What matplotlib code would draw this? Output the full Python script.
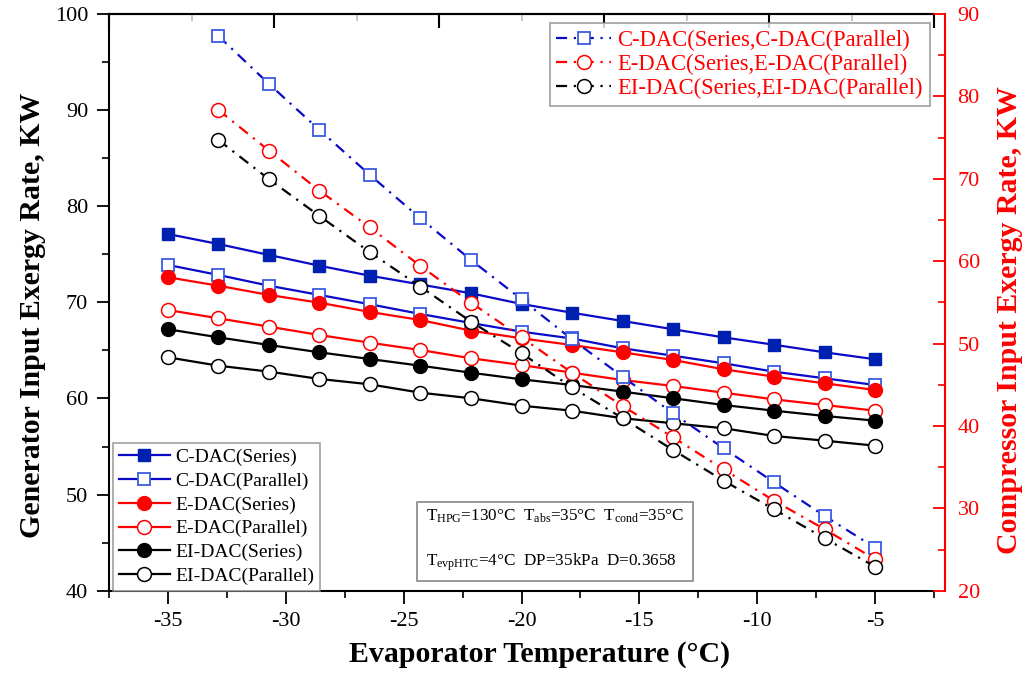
import matplotlib
matplotlib.use("Agg")
import matplotlib.pyplot as plt
from matplotlib.ticker import MultipleLocator

plt.rcParams['font.family'] = ['Liberation Serif', 'DejaVu Serif']
plt.rcParams['mathtext.fontset'] = 'custom'
plt.rcParams['mathtext.rm'] = 'Liberation Serif'
plt.rcParams['mathtext.it'] = 'Liberation Serif:italic'
plt.rcParams['mathtext.bf'] = 'Liberation Serif:bold'
plt.rcParams['axes.unicode_minus'] = False

# Evaporator temperature (°C)
temp = [-35, -32.86, -30.71, -28.57, -26.43, -24.29, -22.14, -20,
        -17.86, -15.71, -13.57, -11.43, -9.29, -7.14, -5]

# Generator input exergy rate (kW), left axis
c_series = [77.11, 76.07, 74.93, 73.81, 72.77, 71.86, 70.94, 69.83,
            68.92, 68.06, 67.20, 66.36, 65.59, 64.80, 64.08]
c_parallel = [73.89, 72.85, 71.73, 70.77, 69.80, 68.79, 67.85, 66.95,
              66.24, 65.22, 64.45, 63.66, 62.79, 62.10, 61.40]
e_series = [72.61, 71.73, 70.77, 69.96, 69.00, 68.16, 67.05, 66.26,
            65.56, 64.80, 64.00, 63.04, 62.27, 61.58, 60.88]
e_parallel = [69.20, 68.34, 67.47, 66.60, 65.80, 65.04, 64.18, 63.48,
              62.68, 61.92, 61.30, 60.60, 59.91, 59.32, 58.73]
ei_series = [67.20, 66.36, 65.56, 64.80, 64.10, 63.41, 62.68, 61.99,
             61.40, 60.71, 60.02, 59.32, 58.73, 58.18, 57.69]
ei_parallel = [64.28, 63.41, 62.79, 62.03, 61.47, 60.60, 60.02, 59.25,
               58.73, 57.94, 57.42, 56.90, 56.10, 55.61, 55.09]

# Compressor input exergy rate (kW), right axis
comp_temp = temp[1:]
c_comp = [87.33, 81.50, 75.92, 70.46, 65.20, 60.14, 55.37, 50.52,
          45.98, 41.53, 37.29, 33.16, 29.07, 25.22]
e_comp = [78.35, 73.41, 68.55, 64.09, 59.41, 54.96, 50.76, 46.46,
          42.42, 38.62, 34.74, 30.93, 27.46, 23.82]
ei_comp = [74.71, 69.94, 65.48, 61.08, 56.90, 52.65, 48.82, 44.69,
           40.93, 37.08, 33.36, 29.88, 26.36, 22.92]

series_labels = ['C-DAC(Series)', 'C-DAC(Parallel)', 'E-DAC(Series)',
                 'E-DAC(Parallel)', 'EI-DAC(Series)', 'EI-DAC(Parallel)']
comp_labels = ['C-DAC(Series,C-DAC(Parallel)', 'E-DAC(Series,E-DAC(Parallel)',
               'EI-DAC(Series,EI-DAC(Parallel)']

BLUE_LINE = '#0a0ac8'
BLUE_FILL = '#0020b0'
BLUE_OPEN = '#3a5ae0'
RED = '#ff0000'
BLACK = '#000000'

fig = plt.figure(figsize=(10.27, 6.73), dpi=100)
ax = fig.add_axes([109 / 1027, 1 - 590.7 / 673, 825 / 1027, 576.7 / 673])

lw = 1.6
ms = 9
ax.plot(temp, c_series, color=BLUE_LINE, lw=lw, marker='s', ms=ms,
        mfc=BLUE_FILL, mec=BLUE_FILL, label=series_labels[0])
ax.plot(temp, c_parallel, color=BLUE_LINE, lw=lw, marker='s', ms=ms,
        mfc='white', mec=BLUE_OPEN, mew=1.3, label=series_labels[1])
ax.plot(temp, e_series, color=RED, lw=lw, marker='o', ms=ms + 1,
        mfc=RED, mec=RED, label=series_labels[2])
ax.plot(temp, e_parallel, color=RED, lw=lw, marker='o', ms=ms + 1,
        mfc='white', mec=RED, mew=1.1, label=series_labels[3])
ax.plot(temp, ei_series, color=BLACK, lw=lw, marker='o', ms=ms + 1,
        mfc=BLACK, mec=BLACK, label=series_labels[4])
ax.plot(temp, ei_parallel, color=BLACK, lw=lw, marker='o', ms=ms + 1,
        mfc='white', mec=BLACK, mew=1.1, label=series_labels[5])

ax.set_xlim(-37.5, -2.5)
ax.set_ylim(40, 100)
ax.xaxis.set_major_locator(MultipleLocator(5))
ax.xaxis.set_minor_locator(MultipleLocator(2.5))
ax.yaxis.set_major_locator(MultipleLocator(10))
ax.yaxis.set_minor_locator(MultipleLocator(5))
ax.tick_params(axis='both', which='major', direction='out', length=9,
               width=1.3, labelsize=16, pad=6)
ax.tick_params(axis='both', which='minor', direction='out', length=5, width=1.2)
ax.tick_params(axis='y', which='both', right=False)
ax.tick_params(axis='x', which='both', top=False)
ax.spines['right'].set_visible(False)
for side in ('left', 'bottom', 'top'):
    ax.spines[side].set_linewidth(1.5)

ax.set_xlabel('Evaporator Temperature (°C)', fontsize=21.5, fontweight='bold')
ax.xaxis.set_label_coords((540 - 109) / 825, -0.088)
ax.set_ylabel('Generator Input Exergy Rate, KW', fontsize=21.5, fontweight='bold')
ax.yaxis.set_label_coords(-0.076, 0.478)

leg1 = ax.legend(loc='lower left', bbox_to_anchor=(0.005, 0.0), fontsize=14,
                 frameon=True, fancybox=False, edgecolor='#888888',
                 handlelength=2.6, handletextpad=0.3, labelspacing=0.31,
                 borderpad=0.3, borderaxespad=0.0)
leg1.get_frame().set_linewidth(1.2)

# Top axis with its own evenly spaced inward ticks
top = ax.twiny()
top.set_xlim(0, 5)
top.xaxis.set_major_locator(MultipleLocator(1))
top.xaxis.set_minor_locator(MultipleLocator(0.5))
top.tick_params(axis='x', which='major', direction='in', length=10, width=1.5,
                labeltop=False, colors=BLACK)
top.tick_params(axis='x', which='minor', direction='in', length=5, width=1.2,
                color='#bbbbbb')
top.tick_params(axis='y', left=False, right=False, labelleft=False,
                labelright=False)
for side in ('left', 'right', 'bottom'):
    top.spines[side].set_visible(False)
top.spines['top'].set_linewidth(1.5)

# Compressor exergy on the red right axis
ax2 = ax.twinx()
ax2.set_ylim(20, 90)
dash = (0, (5, 3, 1, 3))
ax2.plot(comp_temp, c_comp, color=BLUE_LINE, lw=lw, ls=dash, marker='s',
         ms=ms, mfc='white', mec=BLUE_OPEN, mew=1.3, label=comp_labels[0])
ax2.plot(comp_temp, e_comp, color=RED, lw=lw, ls=dash, marker='o',
         ms=ms + 1, mfc='white', mec=RED, mew=1.1, label=comp_labels[1])
ax2.plot(comp_temp, ei_comp, color=BLACK, lw=lw, ls=dash, marker='o',
         ms=ms + 1, mfc='white', mec=BLACK, mew=1.1, label=comp_labels[2])
ax2.set_xlim(-37.5, -2.5)
ax2.yaxis.set_major_locator(MultipleLocator(10))
ax2.yaxis.set_minor_locator(MultipleLocator(5))
for side in ('left', 'top', 'bottom'):
    ax2.spines[side].set_visible(False)
ax2.spines['right'].set_position(('outward', 8))
ax2.spines['right'].set_color(RED)
ax2.spines['right'].set_linewidth(1.5)
ax2.tick_params(axis='y', which='major', direction='in', length=9, width=1.3,
                colors=RED, labelsize=16, pad=9)
ax2.tick_params(axis='y', which='minor', direction='in', length=5, width=1.2,
                colors=RED)
ax2.set_ylabel('Compressor Input Exergy Rate, KW', fontsize=21.5,
               fontweight='bold', color=RED)
ax2.yaxis.set_label_coords(1.075, 0.47)

leg2 = ax2.legend(loc='upper right', bbox_to_anchor=(0.995, 0.984), fontsize=16.3,
                  frameon=True, fancybox=False, edgecolor='#888888',
                  handlelength=2.4, handletextpad=0.3, labelspacing=0.13,
                  borderpad=0.3, borderaxespad=0.0, labelcolor=RED)
leg2.get_frame().set_linewidth(1.2)

# Operating conditions box
cond = (r'T$_{\mathrm{HPG}}$=130°C  T$_{\mathrm{abs}}$=35°C  T$_{\mathrm{cond}}$=35°C'
        '\n\n'
        r'T$_{\mathrm{evpHTC}}$=4°C  DP=35kPa  D=0.3658')
ax2.text((426 - 109) / 825, (590.7 - 540) / 576.7, cond, transform=ax2.transAxes,
         fontsize=12.3, ha='left', va='center', linespacing=1.4,
         bbox=dict(boxstyle='square,pad=0.5', fc='white', ec='#888888', lw=1.2))

fig.savefig('out.png', dpi=100)
